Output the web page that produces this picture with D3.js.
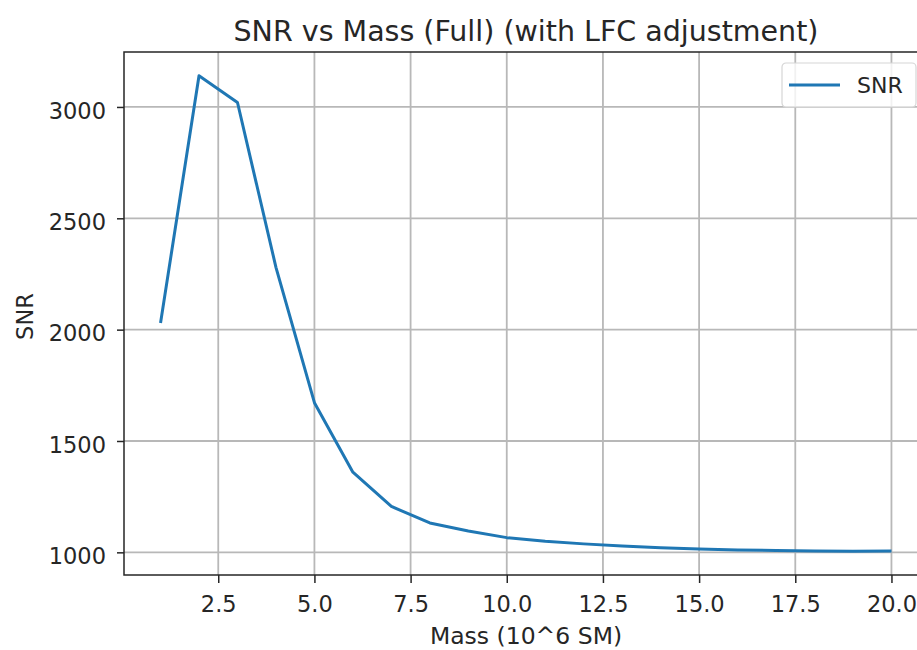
<!DOCTYPE html>
<html>
<meta charset="utf-8">
<title>SNR vs Mass</title>
<style>
	body { margin: 0; background: #ffffff; }
	svg { display: block; overflow: hidden; }
	text { font-family: "DejaVu Sans", sans-serif; fill: #262626; }
	.grid line { stroke: #b8b8b8; stroke-width: 1.8px; }
</style>
<body>
<div id="chart"></div>
<script src="https://d3js.org/d3.v7.min.js"></script>
<script>

	// Data
	var mass = [1, 2, 3, 4, 5, 6, 7, 8, 9, 10, 11, 12, 13, 14, 15, 16, 17, 18, 19, 20];
	var snr = [2030, 3140, 3020, 2280, 1672, 1360, 1206, 1132, 1096, 1066, 1050, 1038, 1029, 1021, 1015, 1011, 1008, 1006, 1005, 1006];
	var xTicks = [2.5, 5.0, 7.5, 10.0, 12.5, 15.0, 17.5, 20.0];
	var yTicks = [1000, 1500, 2000, 2500, 3000];

	var W = 917, H = 650;
	var margin = { top: 52, left: 124, right: 928, bottom: 575 };

	var svg = d3.select("#chart").append("svg")
		.attr("width", W)
		.attr("height", H);

	// matplotlib style 5% padding
	var xMin = d3.min(mass), xMax = d3.max(mass), xPad = (xMax - xMin) * 0.05;
	var yMin = d3.min(snr), yMax = d3.max(snr), yPad = (yMax - yMin) * 0.05;

	var x = d3.scaleLinear().domain([xMin - xPad, xMax + xPad]).range([margin.left, margin.right]);
	var y = d3.scaleLinear().domain([yMin - yPad, yMax + yPad]).range([margin.bottom, margin.top]);

	// grid
	var grid = svg.append("g").attr("class", "grid");
	grid.selectAll(".gx").data(xTicks).enter().append("line")
		.attr("x1", function (d) { return x(d); }).attr("x2", function (d) { return x(d); })
		.attr("y1", margin.top).attr("y2", margin.bottom);
	grid.selectAll(".gy").data(yTicks).enter().append("line")
		.attr("y1", function (d) { return y(d); }).attr("y2", function (d) { return y(d); })
		.attr("x1", margin.left).attr("x2", margin.right);

	// axes
	var xAxis = d3.axisBottom(x).tickValues(xTicks).tickFormat(d3.format(".1f")).tickSizeOuter(0).tickSize(8).tickPadding(13);
	var yAxis = d3.axisLeft(y).tickValues(yTicks).tickFormat(d3.format("d")).tickSizeOuter(0).tickSize(7).tickPadding(11);

	svg.append("g").attr("transform", "translate(0," + margin.bottom + ")").call(xAxis)
		.call(function (g) { g.select(".domain").remove(); });
	svg.append("g").attr("class", "yaxis").attr("transform", "translate(" + margin.left + ",0)").call(yAxis)
		.call(function (g) { g.select(".domain").remove(); });
	svg.selectAll(".tick line").attr("stroke", "#262626").attr("stroke-width", 1.5);
	svg.selectAll(".tick text").attr("fill", "#262626")
		.style("font-family", "DejaVu Sans").style("font-size", "22.5px");
	svg.selectAll(".yaxis .tick text").attr("dy", "0.5em");

	// line
	var line = d3.line()
		.x(function (d, i) { return x(mass[i]); })
		.y(function (d) { return y(d); });

	svg.append("path")
		.datum(snr)
		.attr("fill", "none")
		.attr("stroke", "#1f77b4")
		.attr("stroke-width", 3)
		.attr("stroke-linejoin", "round")
		.attr("d", line);

	// frame
	svg.append("rect")
		.attr("x", margin.left).attr("y", margin.top)
		.attr("width", margin.right - margin.left).attr("height", margin.bottom - margin.top)
		.attr("fill", "none").attr("stroke", "#262626").attr("stroke-width", 1.5);

	// title and labels
	svg.append("text")
		.attr("x", (margin.left + margin.right) / 2).attr("y", 41)
		.attr("text-anchor", "middle").style("font-size", "28.5px")
		.text("SNR vs Mass (Full) (with LFC adjustment)");

	svg.append("text")
		.attr("x", (margin.left + margin.right) / 2).attr("y", 644)
		.attr("text-anchor", "middle").style("font-size", "23.5px")
		.text("Mass (10^6 SM)");

	svg.append("text")
		.attr("transform", "translate(33," + ((margin.top + margin.bottom) / 2 + 3) + ") rotate(-90)")
		.attr("text-anchor", "middle").style("font-size", "22.5px")
		.text("SNR");

	// legend
	var lg = svg.append("g").attr("transform", "translate(782,63)");
	lg.append("rect")
		.attr("width", 134).attr("height", 44).attr("rx", 4)
		.attr("fill", "#ffffff").attr("fill-opacity", 0.8)
		.attr("stroke", "#d6d6d6").attr("stroke-width", 1.2);
	lg.append("line")
		.attr("x1", 7).attr("x2", 58).attr("y1", 22).attr("y2", 22)
		.attr("stroke", "#1f77b4").attr("stroke-width", 3);
	lg.append("text")
		.attr("x", 75).attr("y", 22).attr("dy", "0.38em")
		.style("font-size", "22px")
		.text("SNR");

</script>
</body>
</html>
